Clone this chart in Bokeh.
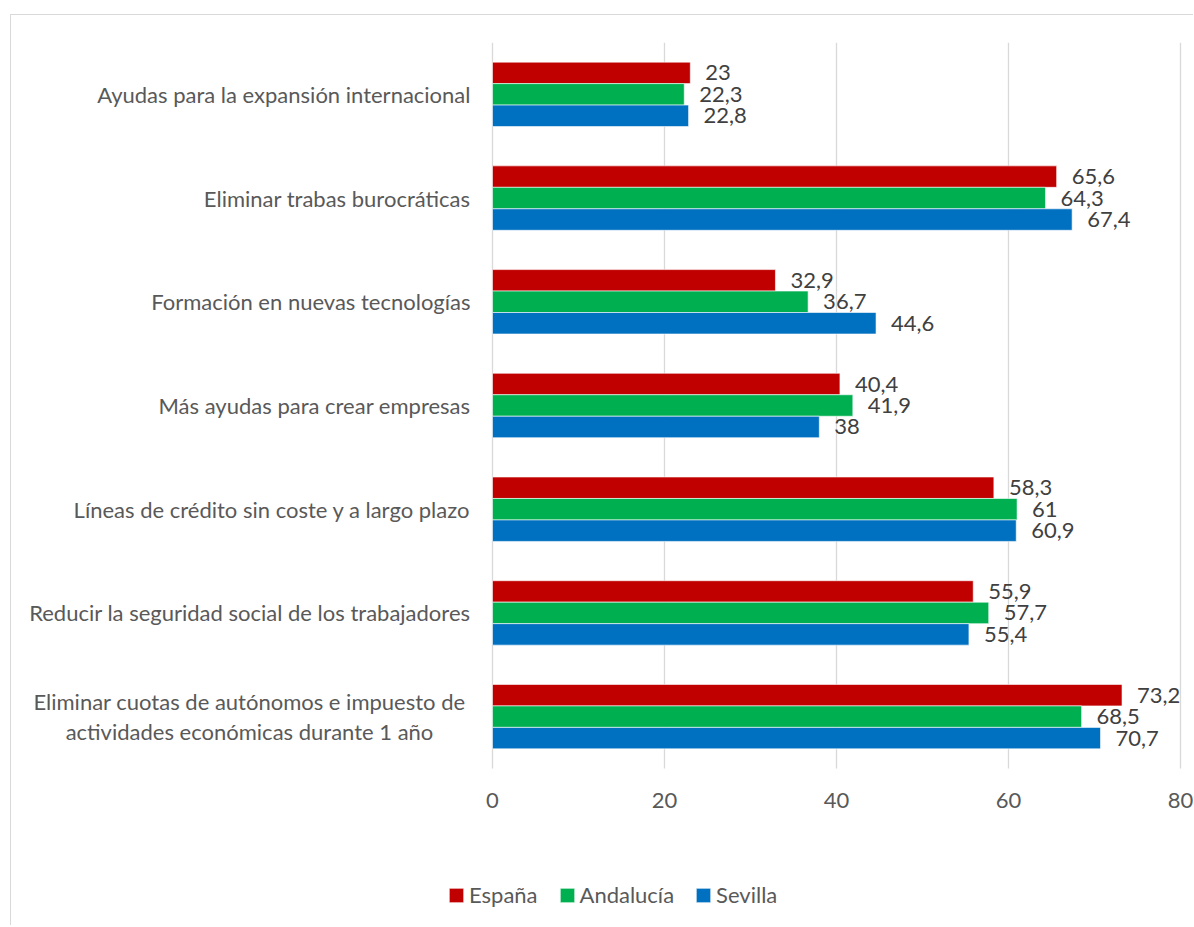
from bokeh.plotting import figure
from bokeh.models import ColumnDataSource, Range1d, Legend, LegendItem
from bokeh.transform import dodge
from bokeh.core.properties import value
from bokeh.embed import file_html
from bokeh.resources import INLINE

categories = [
    "Eliminar cuotas de autónomos e impuesto de\nactividades económicas durante 1 año",
    "Reducir la seguridad social de los trabajadores",
    "Líneas de crédito sin coste y a largo plazo",
    "Más ayudas para crear empresas",
    "Formación en nuevas tecnologías",
    "Eliminar trabas burocráticas",
    "Ayudas para la expansión internacional",
]
espana = [73.2, 55.9, 58.3, 40.4, 32.9, 65.6, 23]
andalucia = [68.5, 57.7, 61, 41.9, 36.7, 64.3, 22.3]
sevilla = [70.7, 55.4, 60.9, 38, 44.6, 67.4, 22.8]
series = ["España", "Andalucía", "Sevilla"]
colors = ["#C00000", "#00B050", "#0070C0"]
x_ticks = [0, 20, 40, 60, 80]

FONT = "Lato"
TXT = "#595959"
FS = "22px"

# layout (pixels)
LEFT_PAD = 481      # frame space left of the value origin (category labels)
RIGHT_PAD = 13      # frame space right of the last tick
PLOT_W = 688        # pixels from 0 to 80
CAT_PX = 726        # height of the category band area
EXTRA_PX = 157      # frame space below the bars (tick labels + legend)
PPU = PLOT_W / x_ticks[-1]
n = len(categories)
y_pos = [i + 0.5 for i in range(n)]

p = figure(frame_width=LEFT_PAD + PLOT_W + RIGHT_PAD, frame_height=CAT_PX + EXTRA_PX,
           output_backend="svg", toolbar_location=None,
           x_range=Range1d(-LEFT_PAD / PPU, x_ticks[-1] + RIGHT_PAD / PPU),
           y_range=Range1d(-EXTRA_PX * n / CAT_PX, n))
p.min_border_left = 0
p.min_border_right = 0
p.min_border_top = 27
p.min_border_bottom = 0
p.outline_line_color = None
p.background_fill_color = "white"
p.border_fill_color = "white"
p.xaxis.visible = False
p.yaxis.visible = False
p.grid.visible = False
p.styles = {"border-top": "1px solid #d9d9d9", "border-left": "1px solid #d9d9d9",
            "margin-left": "10px", "margin-top": "14px"}

# vertical gridlines at the value ticks, spanning the category area
p.segment(x0=x_ticks, x1=x_ticks, y0=[0] * len(x_ticks), y1=[n] * len(x_ticks),
          line_color="#d9d9d9", line_width=1.3)
# value-axis tick labels
p.text(x=x_ticks, y=[0] * len(x_ticks), text=[str(t) for t in x_ticks], y_offset=32,
       text_align="center", text_baseline="middle",
       text_font=value(FONT), text_font_size=FS, text_color=TXT)

bar_h = 0.207
offsets = [bar_h, 0.0, -bar_h]
all_vals = [espana, andalucia, sevilla]
items = []
for name, col, vals, off in zip(series, colors, all_vals, offsets):
    src = ColumnDataSource(dict(y=y_pos, val=vals,
                                lab=[f"{v:g}".replace(".", ",") for v in vals]))
    r = p.hbar(y=dodge("y", off), right="val", left=0, height=bar_h,
               source=src, fill_color=col, line_color="white", line_width=0.6)
    p.text(x="val", y=dodge("y", off), text="lab", source=src,
           x_offset=15, text_baseline="middle", text_align="left",
           text_font=value(FONT), text_font_size=FS, text_color="#404040")
    items.append(LegendItem(label=name, renderers=[r]))

# category labels (left of the value origin)
single = [(y, c) for y, c in zip(y_pos, categories) if "\n" not in c]
multi = [(y, c) for y, c in zip(y_pos, categories) if "\n" in c]
p.text(x=0, y=[s[0] for s in single], text=[s[1] for s in single], x_offset=-22,
       text_align="right", text_baseline="middle",
       text_font=value(FONT), text_font_size=FS, text_color=TXT)
p.text(x=0, y=[m[0] for m in multi], text=[m[1] for m in multi], x_offset=-243,
       text_align="center", text_baseline="middle", text_line_height=1.1,
       text_font=value(FONT), text_font_size=FS, text_color=TXT)

legend = Legend(items=items, orientation="horizontal", location=(436, 17),
                glyph_width=18, glyph_height=18, label_standoff=4, spacing=20,
                padding=0, margin=0, border_line_color=None, background_fill_alpha=0,
                label_text_font=FONT, label_text_font_size=FS, label_text_color=TXT)
p.add_layout(legend, "center")

open("out.html", "w").write(file_html(p, INLINE))
